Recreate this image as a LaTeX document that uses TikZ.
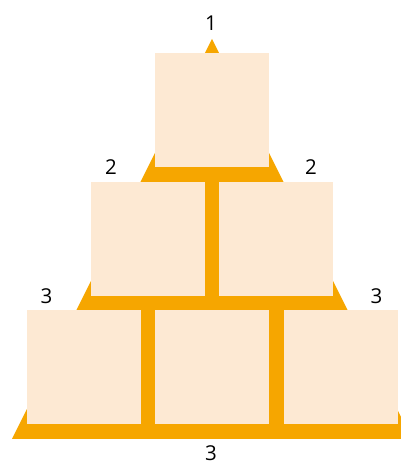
\documentclass[tikz,border=0pt]{standalone}
\usepackage{fontspec}
\setmainfont{Open Sans}
\usepackage{xcolor}
\usepackage{tikz}
\definecolor{pyrorange}{RGB}{246,166,0}
\definecolor{pyrpeach}{RGB}{253,233,211}

\begin{document}
\begin{tikzpicture}[x=1pt,y=1pt,line join=round,
  brick/.style={fill=pyrpeach,inner sep=0pt,minimum size=114pt},
  count/.style={font=\fontsize{20.5}{20.5}\selectfont,inner sep=0pt}]
  \useasboundingbox (0,0) rectangle (401,464);
  \coordinate (T0) at (212.000,425.000);
  \coordinate (T1) at (12.000,25.000);
  \coordinate (T2) at (412.000,25.000);
  \fill[pyrorange] (T0) -- (T1) -- (T2) -- cycle;
  \node[brick] (B11) at (212.000,353.500) {};
  \node[brick] (B21) at (147.750,225.000) {};
  \node[brick] (B22) at (276.250,225.000) {};
  \node[brick] (B31) at (83.500,96.500) {};
  \node[brick] (B32) at (212.000,96.500) {};
  \node[brick] (B33) at (340.500,96.500) {};
  \node[count] (N1) at (211.000,441.000) {1};
  \node[count] (N21) at (111.000,296.500) {2};
  \node[count] (N22) at (311.000,296.500) {2};
  \node[count] (N31) at (46.500,167.500) {3};
  \node[count] (N32) at (376.500,167.500) {3};
  \node[count] (N33) at (211.000,10.500) {3};
\end{tikzpicture}
\end{document}
